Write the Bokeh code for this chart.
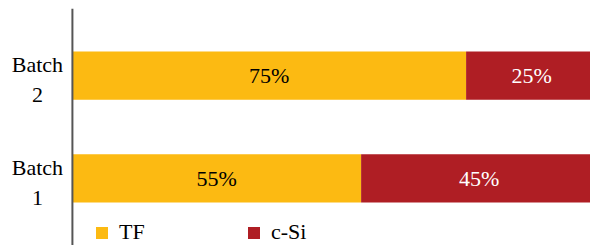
from bokeh.plotting import figure
from bokeh.models import ColumnDataSource, Range1d, FactorRange, Span
from bokeh.core.properties import value
from bokeh.embed import file_html
from bokeh.resources import INLINE

batches = ["Batch 1", "Batch 2"]
batch_labels = ["Batch\n1", "Batch\n2"]
tf = [55, 75]
csi = [45, 25]
series = ["TF", "c-Si"]
colors = ["#FCBA12", "#AF1E24"]
label_colors = ["black", "white"]

FONT = "Liberation Serif"

src = ColumnDataSource(dict(batch=batches, TF=tf, **{"c-Si": csi}))

p = figure(width=590, height=245,
           y_range=FactorRange(factors=batches, range_padding=0.155,
                               range_padding_units="absolute"),
           x_range=Range1d(-13.7, 98.7), output_backend="svg", toolbar_location=None,
           x_axis_location=None, y_axis_location=None,
           min_border_left=0, min_border_right=0, min_border_top=8, min_border_bottom=0)

p.hbar_stack(series, y="batch", height=0.47, color=colors, source=src,
             legend_label=series, line_color=None)

# value labels
tf_mid = [v / 2 for v in tf]
csi_mid = [t + c / 2 for t, c in zip(tf, csi)]
p.text(x=tf_mid, y=batches, text=[f"{v}%" for v in tf], text_align="center",
       text_baseline="middle", text_font=value(FONT), text_font_size="22px",
       text_color=label_colors[0])
p.text(x=csi_mid, y=batches, text=[f"{v}%" for v in csi], text_align="center",
       text_baseline="middle", text_font=value(FONT), text_font_size="22px",
       text_color=label_colors[1])

# category axis: line at zero plus two-line labels
p.add_layout(Span(location=0, dimension="height", line_color="#555555", line_width=2))
p.text(x=[0] * len(batches), y=batches, text=batch_labels, x_offset=-35, y_offset=4,
       text_align="center", text_baseline="middle", text_font=value(FONT),
       text_font_size="22px", text_color="black", text_line_height=1.2)

p.xgrid.visible = False
p.ygrid.visible = False
p.outline_line_color = None

lg = p.legend[0]
lg.location = (94, 0)
lg.orientation = "horizontal"
lg.glyph_width = 15
lg.glyph_height = 15
lg.label_standoff = 10
lg.label_width = 127
lg.spacing = 0
lg.padding = 0
lg.margin = 0
lg.border_line_color = None
lg.background_fill_alpha = 0
p.legend.label_text_font = FONT
p.legend.label_text_font_size = "22px"
p.legend.label_text_line_height = 1.0
p.legend.label_text_color = "black"

open("out.html", "w").write(file_html(p, INLINE))
